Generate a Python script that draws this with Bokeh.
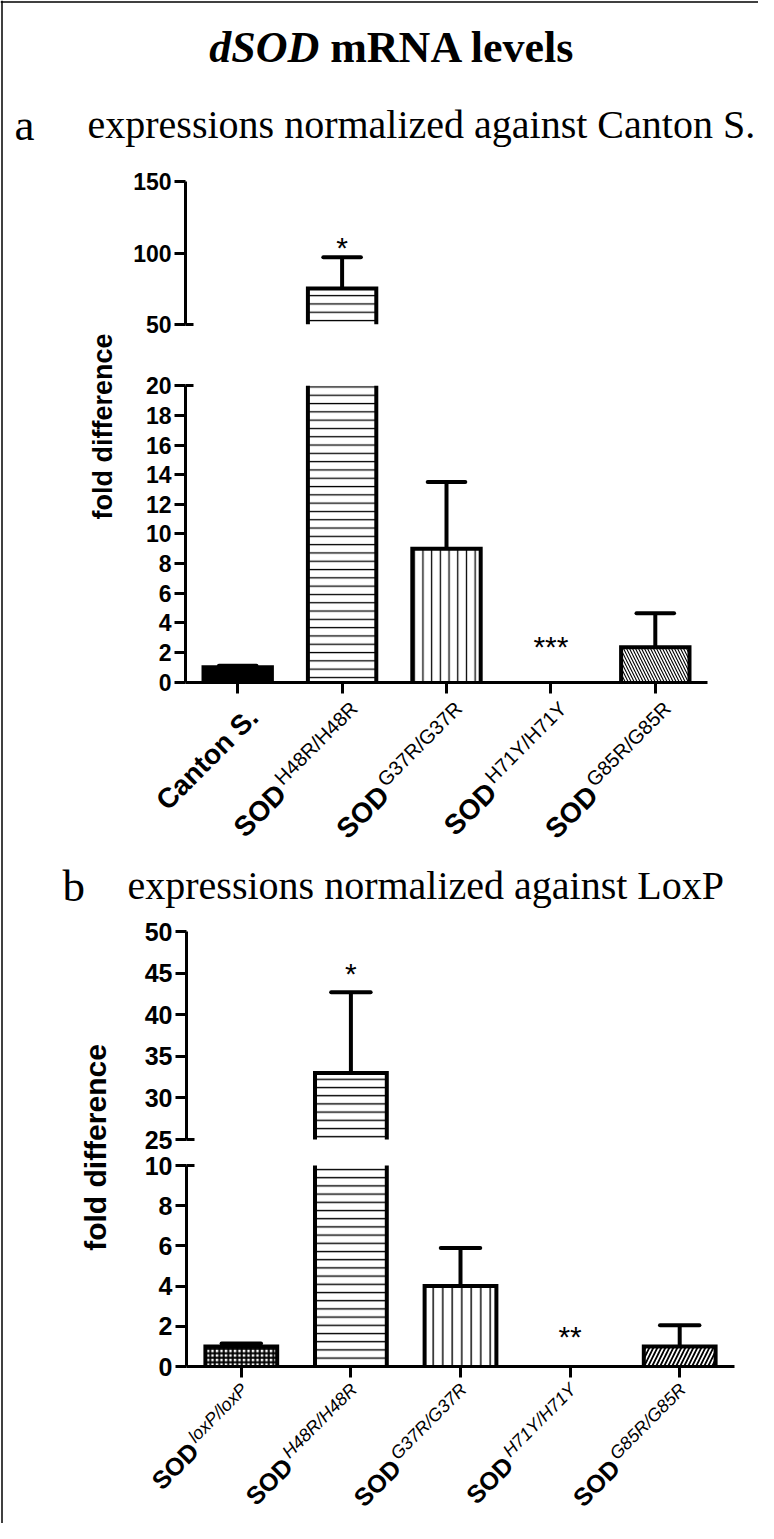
import math
from bokeh.plotting import figure
from bokeh.models import Range1d, LinearAxis, FixedTicker, Span, CustomJSTickFormatter
from bokeh.core.properties import value
from bokeh.embed import file_html
from bokeh.resources import INLINE

# ---------------- data ----------------
title_italic = "dSOD"
title_bold = "mRNA levels"
panel_letters = ["a", "b"]
panel_subtitles = ["expressions normalized against Canton S.",
                   "expressions normalized against LoxP"]
y_label = "fold difference"

a_base = ["Canton S.", "SOD", "SOD", "SOD", "SOD"]
a_sup = ["", "H48R/H48R", "G37R/G37R", "H71Y/H71Y", "G85R/G85R"]
a_mean = [1.0, 75.0, 9.0, 0.0, 2.35]
a_err = [0.1, 22.0, 4.5, 0.0, 2.3]
a_sig = ["", "*", "", "***", ""]
a_ticks_low = [0, 2, 4, 6, 8, 10, 12, 14, 16, 18, 20]
a_ticks_high = [50, 100, 150]

b_base = ["SOD", "SOD", "SOD", "SOD", "SOD"]
b_sup = ["loxP/loxP", "H48R/H48R", "G37R/G37R", "H71Y/H71Y", "G85R/G85R"]
b_mean = [1.0, 33.0, 4.0, 0.0, 1.0]
b_err = [0.15, 9.7, 1.9, 0.0, 1.05]
b_sig = ["", "*", "", "**", ""]
b_ticks_low = [0, 2, 4, 6, 8, 10]
b_ticks_high = [25, 30, 35, 40, 45, 50]

# ---------------- styles ----------------
a_fill = ["black", "white", "white", "white", "white"]
a_hatch = [" ", "horizontal_line", "vertical_line", " ", "left_diagonal_line"]
a_hscale = [8.0, 8.3, 8.7, 8.0, 6.0]
a_hweight = [1.0, 1.3, 1.3, 1.0, 1.1]
b_fill = ["white"] * 5
b_hatch = ["cross", "horizontal_line", "vertical_line", " ", "right_diagonal_line"]
b_hscale = [4.5, 8.2, 9.5, 8.0, 8.0]
b_hweight = [2.0, 1.4, 1.4, 1.0, 1.8]

# significance-mark baseline positions, in data units of each panel
a_sig_pos = [0, 103.6, 0, 2.42, 0]
b_sig_pos = [0, 45.0, 0, 1.49, 0]

# ---------------- layout (page pixels) ----------------
PX0, PX1, PY0, PY1 = 8, 766, 8, 1531
LA = dict(axis_x=193, x_end=715, low=(0, 689.5, 20, 393.3), high=(50, 331.7, 150, 189.3),
          tick_fs=23, lab_fs=27, base_fs=28, sup_fs=20, sup_italic=False,
          sup_anchor=(12, 23), drop=8, ylab=(110, 434))
LB = dict(axis_x=194, x_end=742, low=(0, 1374, 10, 1173), high=(25, 1147, 50, 939),
          tick_fs=25, lab_fs=30, base_fs=25, sup_fs=18, sup_italic=True,
          sup_anchor=(3, 20), drop=7, ylab=(103, 1155))
HEAD = dict(title_cx=400, title_y=55, title_fs=44,
            rows=[dict(letter_x=22, text_x=95, y=132, fs=40),
                  dict(letter_x=70, text_x=135, y=893, fs=40)])
BAR_W = 0.655
CAP_HALF = 0.18
SIG_FS = 30
SANS = "Liberation Sans"
SERIF = "Liberation Serif"

W_REG = {'H': 722, 'R': 722, 'G': 778, 'Y': 667, '/': 278, 'l': 222, 'o': 556,
         'x': 500, 'P': 667}
W_SERIF_BI = {'d': 500, 'S': 556, 'O': 722, 'D': 722}
W_SERIF_B = {' ': 250, 'm': 833, 'R': 722, 'N': 722, 'A': 722, 'l': 278, 'e': 444,
             'v': 500, 's': 389}


def tw(s, fs, table):
    return sum(table.get(c, 556) for c in s) * fs / 1000.0


def yrange(d0, p0, d1, p1):
    k = (d1 - d0) / (p1 - p0)
    return Range1d(start=d0 + (PY1 - p0) * k, end=d0 + (PY0 - p0) * k)


def xrange(ax0, ax1, n):
    k = n / (ax1 - ax0)
    return Range1d(start=(PX0 - ax0) * k, end=(PX1 - ax0) * k)


p = figure(width=PX1 - PX0, height=PY1 - PY0, x_range=Range1d(PX0, PX1),
           y_range=Range1d(PY1, PY0), output_backend="svg", toolbar_location=None,
           min_border=0, x_axis_location=None, y_axis_location=None,
           outline_line_color=None, background_fill_color="white")
p.xgrid.visible = False
p.ygrid.visible = False

blank_fmt = CustomJSTickFormatter(code="return ''")


def style_axis(ax, fs):
    ax.axis_line_width = 3
    ax.axis_line_color = "black"
    ax.major_tick_line_width = 3
    ax.major_tick_line_color = "black"
    ax.major_tick_out = 11
    ax.major_tick_in = 0
    ax.minor_tick_out = 0
    ax.minor_tick_in = 0
    ax.major_label_text_font = SANS
    ax.major_label_text_font_style = "bold"
    ax.major_label_text_font_size = f"{fs}px"
    ax.major_label_text_color = "black"
    ax.major_label_standoff = 3


def panel(key, base, sup, mean, err, sig, sig_pos, t_low, t_high, L,
          fill, hatch, hscale, hweight):
    n = len(mean)
    xr, ylo, yhi = f"x{key}", f"{key}lo", f"{key}hi"
    p.extra_x_ranges[xr] = xrange(L["axis_x"], L["x_end"], n)
    p.extra_y_ranges[ylo] = yrange(*L["low"])
    p.extra_y_ranges[yhi] = yrange(*L["high"])
    xs = [i + 0.5 for i in range(n)]

    # broken y axis: two segments
    for rname, ticks in ((ylo, t_low), (yhi, t_high)):
        ax = LinearAxis(y_range_name=rname, ticker=FixedTicker(ticks=ticks),
                        bounds=(ticks[0], ticks[-1]), fixed_location=L["axis_x"])
        style_axis(ax, L["tick_fs"])
        p.add_layout(ax, "left")
    # break marks: ticks reaching inward at the ends beside the gap
    for rname, t in ((ylo, t_low[-1]), (yhi, t_high[0])):
        bx = LinearAxis(y_range_name=rname, ticker=FixedTicker(ticks=[t]),
                        fixed_location=L["axis_x"], formatter=blank_fmt)
        style_axis(bx, L["tick_fs"])
        bx.axis_line_color = None
        bx.major_tick_out = 0
        bx.major_tick_in = 8
        p.add_layout(bx, "left")

    # x axis
    xa = LinearAxis(x_range_name=xr, ticker=FixedTicker(ticks=xs), bounds=(0, n),
                    fixed_location=L["low"][1], formatter=blank_fmt)
    style_axis(xa, L["tick_fs"])
    p.add_layout(xa, "below")

    # bars, drawn per axis segment
    for rname, seg in ((ylo, (t_low[0], t_low[-1])), (yhi, (t_high[0], t_high[-1]))):
        idx = [i for i in range(n) if mean[i] > seg[0]]
        if idx:
            tops = [min(mean[i], seg[1]) for i in idx]
            p.vbar(x=[xs[i] for i in idx], bottom=[seg[0]] * len(idx), top=tops,
                   width=BAR_W, fill_color=[fill[i] for i in idx],
                   hatch_pattern=[hatch[i] for i in idx],
                   hatch_scale=[hscale[i] for i in idx],
                   hatch_weight=[hweight[i] for i in idx],
                   hatch_color="black", line_color=None,
                   x_range_name=xr, y_range_name=rname)
            lx, ly = [], []
            for i, t in zip(idx, tops):
                x0, x1 = xs[i] - BAR_W / 2, xs[i] + BAR_W / 2
                if mean[i] <= seg[1]:
                    lx.append([x0, x0, x1, x1])
                    ly.append([seg[0], t, t, seg[0]])
                else:
                    lx += [[x0, x0], [x1, x1]]
                    ly += [[seg[0], t], [seg[0], t]]
            p.multi_line(lx, ly, line_width=4, line_color="black", line_join="miter",
                         x_range_name=xr, y_range_name=rname)
        # error bars (upper half only)
        eidx = [i for i in range(n) if err[i] > 0 and seg[0] <= mean[i] <= seg[1]]
        if eidx:
            p.segment(x0=[xs[i] for i in eidx], y0=[mean[i] for i in eidx],
                      x1=[xs[i] for i in eidx], y1=[mean[i] + err[i] for i in eidx],
                      line_width=4, line_color="black",
                      x_range_name=xr, y_range_name=rname)
            p.segment(x0=[xs[i] - CAP_HALF for i in eidx], y0=[mean[i] + err[i] for i in eidx],
                      x1=[xs[i] + CAP_HALF for i in eidx], y1=[mean[i] + err[i] for i in eidx],
                      line_width=4, line_color="black", line_cap="round",
                      x_range_name=xr, y_range_name=rname)

    # significance marks
    for rname, seg in ((ylo, (t_low[0], t_low[-1])), (yhi, (t_high[0], t_high[-1]))):
        sidx = [i for i in range(n) if sig[i] and seg[0] <= sig_pos[i] <= seg[1]]
        if sidx:
            p.text(x=[xs[i] for i in sidx], y=[sig_pos[i] for i in sidx],
                   text=[sig[i] for i in sidx], text_font=value(SANS),
                   text_font_size=f"{SIG_FS}px", text_align="center",
                   text_baseline="alphabetic", text_color="black",
                   x_range_name=xr, y_range_name=rname)

    # category labels rotated 45 degrees: base text + superscript
    c45 = math.cos(math.radians(45))
    ax_, ay_ = L["sup_anchor"]
    sx, st, sox, soy = [], [], [], []
    bx_, bt, box, boy = [], [], [], []
    for i in range(n):
        bx_.append(xs[i]); bt.append(base[i])
        if sup[i]:
            back = tw(sup[i], L["sup_fs"], W_REG) + 3
            sx.append(xs[i]); st.append(sup[i]); sox.append(ax_); soy.append(ay_)
            box.append(ax_ - c45 * back + c45 * L["drop"])
            boy.append(ay_ + c45 * back + c45 * L["drop"])
        else:
            box.append(ax_ + c45 * L["drop"] - 2)
            boy.append(ay_ + c45 * L["drop"] + 2)
    p.text(x=bx_, y=[0] * len(bx_), text=bt, x_offset=box, y_offset=boy, angle=45,
           angle_units="deg", text_align="right", text_baseline="alphabetic",
           text_font=value(SANS), text_font_style="bold",
           text_font_size=f"{L['base_fs']}px", text_color="black",
           x_range_name=xr, y_range_name=ylo)
    p.text(x=sx, y=[0] * len(sx), text=st, x_offset=sox, y_offset=soy, angle=45,
           angle_units="deg", text_align="right", text_baseline="alphabetic",
           text_font=value(SANS),
           text_font_style="italic" if L["sup_italic"] else "normal",
           text_font_size=f"{L['sup_fs']}px", text_color="black",
           x_range_name=xr, y_range_name=ylo)

    # y-axis title
    p.text(x=[L["ylab"][0]], y=[L["ylab"][1]], text=[y_label], angle=90,
           angle_units="deg", text_align="center", text_baseline="middle",
           text_font=value(SANS), text_font_style="bold",
           text_font_size=f"{L['lab_fs']}px", text_color="black")


panel("a", a_base, a_sup, a_mean, a_err, a_sig, a_sig_pos, a_ticks_low, a_ticks_high,
      LA, a_fill, a_hatch, a_hscale, a_hweight)
panel("b", b_base, b_sup, b_mean, b_err, b_sig, b_sig_pos, b_ticks_low, b_ticks_high,
      LB, b_fill, b_hatch, b_hscale, b_hweight)

# ---------------- header texts ----------------
T_FS = HEAD["title_fs"]
w1 = tw(title_italic, T_FS, W_SERIF_BI)
gap = 0.25 * T_FS
w2 = tw(title_bold, T_FS, W_SERIF_B)
tx0 = HEAD["title_cx"] - (w1 + gap + w2) / 2
p.text(x=[tx0], y=[HEAD["title_y"]], text=[title_italic], text_font=value(SERIF),
       text_font_style="bold italic", text_font_size=f"{T_FS}px",
       text_align="left", text_baseline="alphabetic", text_color="black")
p.text(x=[tx0 + w1 + gap], y=[HEAD["title_y"]], text=[title_bold], text_font=value(SERIF),
       text_font_style="bold", text_font_size=f"{T_FS}px",
       text_align="left", text_baseline="alphabetic", text_color="black")

for letter, sub, row in zip(panel_letters, panel_subtitles, HEAD["rows"]):
    p.text(x=[row["letter_x"]], y=[row["y"]], text=[letter], text_font=value(SERIF),
           text_font_size="45px", text_align="left", text_baseline="alphabetic",
           text_color="black")
    p.text(x=[row["text_x"]], y=[row["y"]], text=[sub], text_font=value(SERIF),
           text_font_size=f"{row['fs']}px", text_align="left", text_baseline="alphabetic",
           text_color="black")

# frame border (left and top edges)
p.add_layout(Span(location=9.5, dimension="height", line_color="black", line_width=1.5))
p.add_layout(Span(location=9.5, dimension="width", line_color="black", line_width=1.5))

open("out.html", "w").write(file_html(p, INLINE))
